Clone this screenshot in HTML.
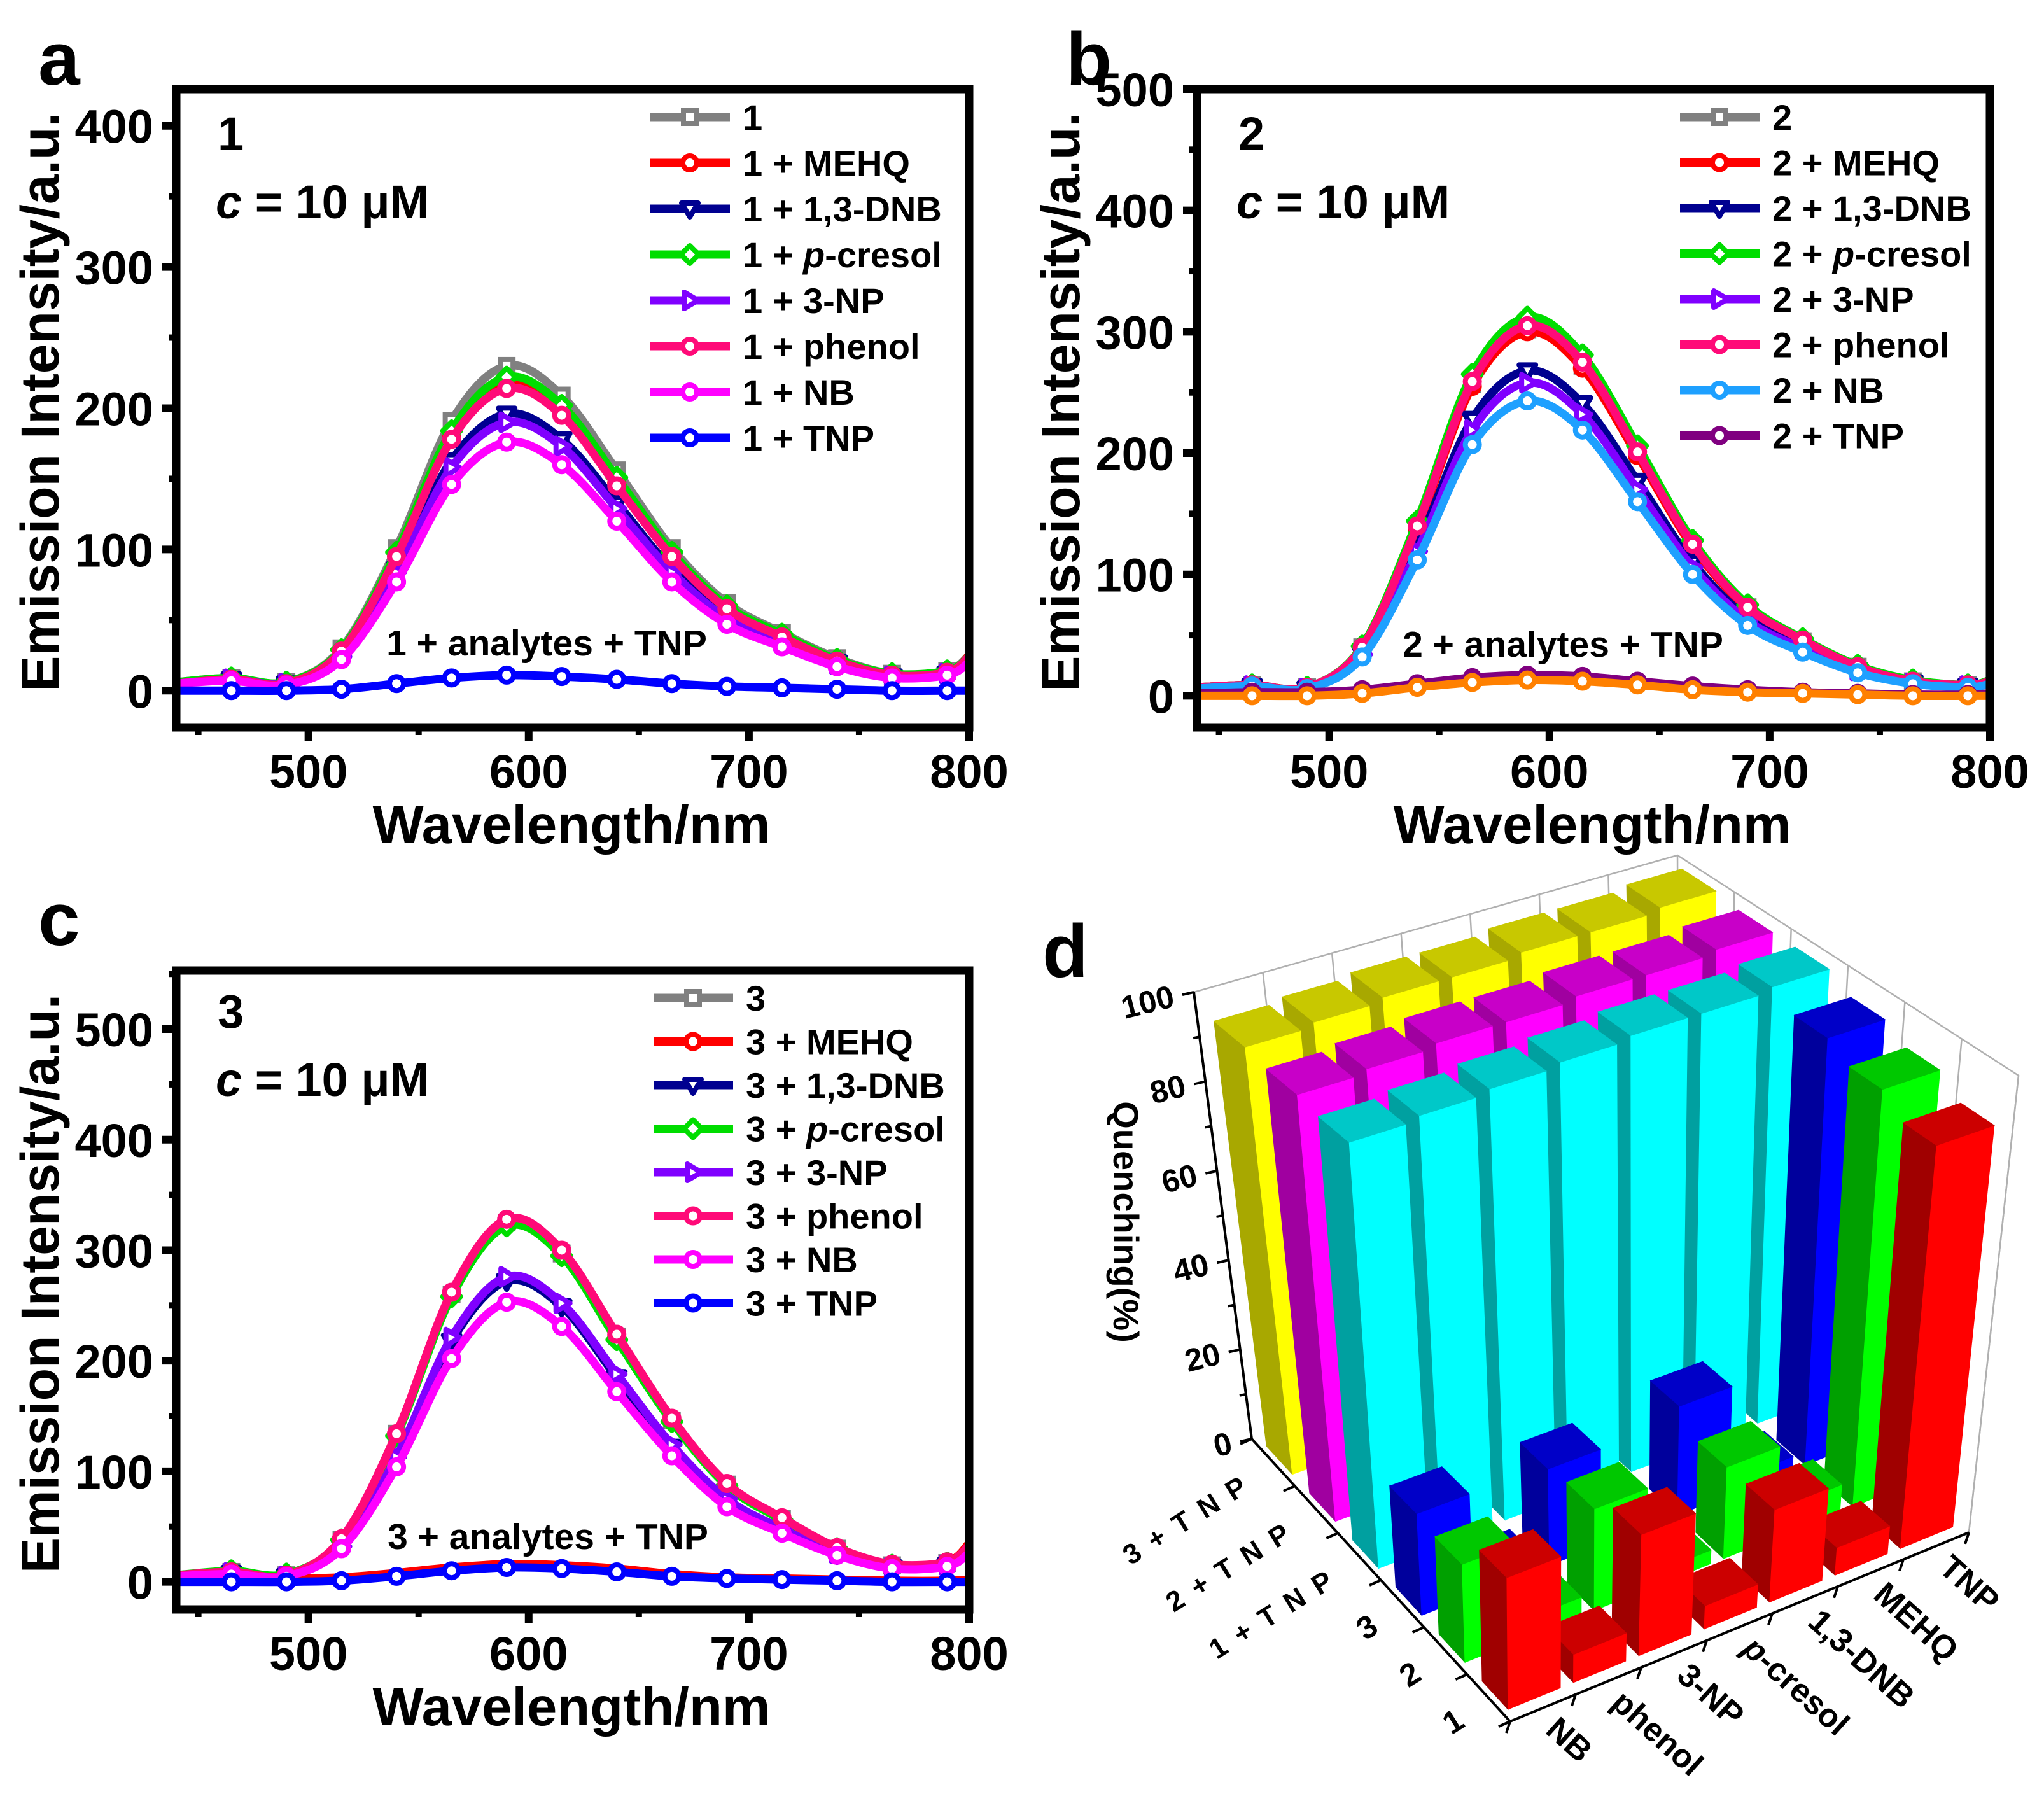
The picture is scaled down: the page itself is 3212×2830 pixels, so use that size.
<!DOCTYPE html>
<html><head><meta charset="utf-8"><title>Emission spectra and quenching</title>
<style>
html,body{margin:0;padding:0;background:#fff;}
svg{display:block;font-family:"Liberation Sans",Arial,sans-serif;font-weight:bold;}
</style></head>
<body>
<svg id="fig" xmlns="http://www.w3.org/2000/svg" width="3212" height="2830" viewBox="0 0 3212 2830"></svg>
<script>
// ---------- shared x data ----------
const wavelengths = [440,465,490,515,540,565,590,615,640,665,690,715,740,765,790,800];
const markerEvery = [false,true,true,true,true,true,true,true,true,true,true,true,true,true,true,false];

// ---------- panel a ----------
const aLabels = ["1","1 + MEHQ","1 + 1,3-DNB","1 + p-cresol","1 + 3-NP","1 + phenol","1 + NB","1 + TNP"];
const aGray   = [6,9,6,30,101,191,230,209,156,101,62,41,23,12,14,25];
const aMEHQ   = [5,8,5,28,95,179,216,197,147,95,58,39,21,11,13,25];
const aDNB    = [5,8,5,25,86,163,196,178,133,86,53,35,20,10,12,22];
const aCresol = [6,9,6,29,98,184,222,202,151,98,60,40,22,12,14,24];
const aNP     = [5,8,5,24,84,158,190,173,129,84,51,34,19,10,12,21];
const aPhenol = [5,8,5,28,95,178,214,195,145,95,58,38,21,11,13,24];
const aNB     = [5,7,4,22,77,146,176,160,120,77,47,31,17,9,11,20];
const aTNP    = [0,0,0,1,5,9,11,10,8,5,3,2,1,0,0,0];
const aYTicks = [0,100,200,300,400];

// ---------- panel b ----------
const bLabels = ["2","2 + MEHQ","2 + 1,3-DNB","2 + p-cresol","2 + 3-NP","2 + phenol","2 + NB","2 + TNP"];
const bGray   = [7,9,7,40,139,257,302,272,199,124,73,45,24,12,9,12];
const bMEHQ   = [7,9,7,39,138,255,300,270,198,123,72,45,24,12,9,12];
const bDNB    = [6,8,6,35,123,228,268,241,177,110,64,40,21,11,8,11];
const bCresol = [7,9,7,41,144,265,312,281,206,128,75,47,25,13,9,13];
const bNP     = [6,8,6,34,119,219,258,232,170,106,62,39,21,10,8,10];
const bPhenol = [7,9,7,40,140,259,305,275,201,125,73,46,24,12,9,12];
const bNB     = [6,8,6,32,112,207,243,219,160,100,58,36,19,10,7,10];
const bTNP    = [2,3,3,5,10,15,17,16,12,8,5,3,2,1,1,2];
const bQuenched = [0,0,0,2,7,11,13,12,9,5,3,2,1,0,0,0];
const bYTicks = [0,100,200,300,400,500];

// ---------- panel c ----------
const cLabels = ["3","3 + MEHQ","3 + 1,3-DNB","3 + p-cresol","3 + 3-NP","3 + phenol","3 + NB","3 + TNP"];
const cGray   = [6,9,6,38,134,260,325,297,222,146,88,57,30,15,17,32];
const cMEHQ   = [6,9,6,38,134,261,326,298,222,147,88,57,30,15,18,35];
const cDNB    = [5,8,5,32,112,218,272,249,185,122,73,48,25,13,15,28];
const cCresol = [6,10,7,38,132,258,322,295,219,145,87,56,30,15,17,30];
const cNP     = [5,8,5,32,113,221,276,252,188,124,75,48,26,13,15,28];
const cPhenol = [6,9,6,39,134,262,328,300,224,148,89,58,31,16,18,33];
const cNB     = [5,7,5,30,104,202,253,231,172,114,68,44,24,12,14,26];
const cTNP    = [0,0,0,1,5,10,13,12,9,5,3,2,1,0,0,0];
const cQuenched = [2,3,3,4,8,13,16,15,12,7,4,3,2,1,1,2];
const cYTicks = [0,100,200,300,400,500];

const xTicks = [500,600,700,800];

// ---------- panel d ----------
const dAnalytes = ["NB","phenol","3-NP","p-cresol","1,3-DNB","MEHQ","TNP"];
const dRows = ["1","2","3","1 + TNP","2 + TNP","3 + TNP"];
const dRow1 = [28,6,26,5,20,6,88];
const dRow2 = [21,4,22,3,20,6,92];
const dRow3 = [22,3,21,2,24,3,95];
const dRow1TNP = [93,94,95,96,97,97,98];
const dRow2TNP = [94,95,96,96,97,97,98];
const dRow3TNP = [95,96,97,97,98,98,99];
const dZTicks = [0,20,40,60,80,100];

const NS = "http://www.w3.org/2000/svg";
const svg = document.getElementById("fig");
function el(tag, attrs, parent){
  const e = document.createElementNS(NS, tag);
  for (const k in attrs) e.setAttribute(k, attrs[k]);
  (parent||svg).appendChild(e);
  return e;
}
function txt(s, attrs, parent){ const t = el("text", attrs, parent); t.textContent = s; return t; }

function smoothPath(pts){
  let d = "M" + pts[0][0].toFixed(1) + "," + pts[0][1].toFixed(1);
  for (let i=0;i<pts.length-1;i++){
    const p0 = pts[Math.max(0,i-1)], p1 = pts[i], p2 = pts[i+1], p3 = pts[Math.min(pts.length-1,i+2)];
    const c1 = [p1[0]+(p2[0]-p0[0])/6, p1[1]+(p2[1]-p0[1])/6];
    const c2 = [p2[0]-(p3[0]-p1[0])/6, p2[1]-(p3[1]-p1[1])/6];
    d += " C"+c1[0].toFixed(1)+","+c1[1].toFixed(1)+" "+c2[0].toFixed(1)+","+c2[1].toFixed(1)+" "+p2[0].toFixed(1)+","+p2[1].toFixed(1);
  }
  return d;
}

function marker(g, shape, x, y, color){
  let m;
  const sw = 8;
  if (shape === "square") m = el("rect", {x:x-10,y:y-10,width:20,height:20,fill:"#fff",stroke:color,"stroke-width":sw}, g);
  else if (shape === "down") m = el("polygon", {points:`${x-13},${y-9} ${x+13},${y-9} ${x},${y+13}`,fill:"#fff",stroke:color,"stroke-width":sw,"stroke-linejoin":"round"}, g);
  else if (shape === "right") m = el("polygon", {points:`${x-9},${y-13} ${x-9},${y+13} ${x+13},${y}`,fill:"#fff",stroke:color,"stroke-width":sw,"stroke-linejoin":"round"}, g);
  else if (shape === "diamond") m = el("polygon", {points:`${x},${y-14} ${x+14},${y} ${x},${y+14} ${x-14},${y}`,fill:"#fff",stroke:color,"stroke-width":sw,"stroke-linejoin":"round"}, g);
  else m = el("circle", {cx:x,cy:y,r:11,fill:"#fff",stroke:color,"stroke-width":sw}, g);
  
  
  return m;
}

function linePanel(cfg){
  const g = el("g", {});
  
  
  const {x0,x1,y0,y1,xmin,xmax,ymin,ymax} = cfg;
  const X = v => x0 + (v-xmin)/(xmax-xmin)*(x1-x0);
  const Y = v => y1 - (v-ymin)/(ymax-ymin)*(y1-y0);
  const clipId = cfg.name + "-clip";
  const defs = el("defs", {}, g);
  const cp = el("clipPath", {id:clipId}, defs);
  el("rect", {x:x0, y:y0, width:x1-x0, height:y1-y0}, cp);
  const plot = el("g", {"clip-path":`url(#${clipId})`}, g);
  
  
  cfg.series.forEach(s => {
    const sg = el("g", {}, plot);
    
    
    const pts = wavelengths.map((w,i)=>[X(w), Y(s.values[i])]);
    const p = el("path", {d:smoothPath(pts), fill:"none", stroke:s.color, "stroke-width":13, "stroke-linejoin":"round"}, sg);
    
    
    if (s.shape) wavelengths.forEach((w,i)=>{ if (markerEvery[i]) marker(sg, s.shape, X(w), Y(s.values[i]), s.color); });
  });
  const frame = el("rect", {x:x0, y:y0, width:x1-x0, height:y1-y0, fill:"none", stroke:"#000", "stroke-width":13}, g);
  
  
  cfg.yTicks.forEach(t=>{
    const y = Y(t);
    const tk = el("line", {x1:x0-22, x2:x0, y1:y, y2:y, stroke:"#000", "stroke-width":12}, g);
    
    
    const lb = txt(String(t), {x:x0-36, y:y+27, "font-size":74, "text-anchor":"end"}, g);
    
    
    const mid = t + (cfg.yTicks[1]-cfg.yTicks[0])/2;
    if (mid < ymax) {
      const mt = el("line", {x1:x0-12, x2:x0, y1:Y(mid), y2:Y(mid), stroke:"#000", "stroke-width":10}, g);
      
      
    }
  });
  [450,550,650,750].forEach(t=>{
    const mt = el("line", {x1:X(t), x2:X(t), y1:y1, y2:y1+12, stroke:"#000", "stroke-width":10}, g);
    
    
  });
  xTicks.forEach(t=>{
    const x = X(t);
    const tk = el("line", {x1:x, x2:x, y1:y1, y2:y1+22, stroke:"#000", "stroke-width":12}, g);
    
    
    const lb = txt(String(t), {x:x, y:y1+95, "font-size":74, "text-anchor":"middle"}, g);
    
    
  });
  const xt = txt("Wavelength/nm", {x:(x0+x1)/2 - 2, y:y1+182, "font-size":85, "text-anchor":"middle"}, g);
  
  
  const cy = (y0+y1)/2 - 10;
  const yt = txt("Emission Intensity/a.u.", {x:0, y:0, "font-size":84, "text-anchor":"middle", transform:`translate(${x0-185},${cy}) rotate(-90)`}, g);
  
  
  const pl = txt(cfg.letter, {x:cfg.letterX, y:cfg.letterY, "font-size":118}, g);
  
  
  const id = txt(cfg.id, {x:x0+65, y:cfg.idY, "font-size":74}, g);
  
  
  const conc = el("text", {x:x0+62, y:cfg.idY+107, "font-size":74}, g);
  
  
  const ci = el("tspan", {"font-style":"italic"}, conc); ci.textContent = "c";
  const cr = el("tspan", {}, conc); cr.textContent = " = 10 μM";
  const an = txt(cfg.id + " + analytes + TNP", {x:cfg.annX, y:cfg.annY, "font-size":57, "text-anchor":"middle"}, g);
  
  
  const lg = el("g", {}, g);
  
  
  cfg.series.filter(s=>s.label).forEach((s,i)=>{
    const ly = cfg.legY + i*cfg.legStep;
    const eg = el("g", {}, lg);
    
    
    el("line", {x1:cfg.legX, x2:cfg.legX+125, y1:ly, y2:ly, stroke:s.color, "stroke-width":13}, eg);
    marker(eg, s.shape, cfg.legX+62, ly, s.color);
    const t = el("text", {x:cfg.legX+145, y:ly+20, "font-size":56}, eg);
    if (s.label.indexOf("p-cresol")>=0){
      const a = el("tspan", {}, t); a.textContent = s.label.replace("p-cresol","");
      const b = el("tspan", {"font-style":"italic"}, t); b.textContent = "p";
      const c = el("tspan", {}, t); c.textContent = "-cresol";
    } else t.textContent = s.label;
  });
}

const shapes = ["square","circle","down","diamond","right","circle","circle","circle"];
const keys = ["blank","mehq","dnb","p-cresol","3-np","phenol","nb","tnp"];
const colsA = ["#808080","#ff0000","#000090","#00dd00","#8000ff","#ff0a78","#ff00ff","#0000ff"];
const colsB = ["#808080","#ff0000","#000090","#00dd00","#8000ff","#ff0a78","#1ea0ff","#800080"];

function mk(labels, arrs, cols){
  return arrs.map((v,i)=>({key:keys[i], label:labels[i], values:v, color:cols[i], shape:shapes[i]}));
}

const sA = mk(aLabels,[aGray,aMEHQ,aDNB,aCresol,aNP,aPhenol,aNB,aTNP],colsA);
linePanel({name:"panel-a", letter:"a", letterX:60, letterY:133, id:"1", idY:236,
  x0:277,x1:1523,y0:140,y1:1143,xmin:440,xmax:800,ymin:-26,ymax:426,yTicks:aYTicks,
  series:sA, legX:1022, legY:184, legStep:72, annX:859, annY:1030});

const sB = mk(bLabels,[bGray,bMEHQ,bDNB,bCresol,bNP,bPhenol,bNB,bTNP],colsB);
sB.splice(7,0,{key:"quenched", label:null, values:bQuenched, color:"#ff8000", shape:"circle"});
linePanel({name:"panel-b", letter:"b", letterX:1675, letterY:133, id:"2", idY:236,
  x0:1881,x1:3127,y0:140,y1:1143,xmin:440,xmax:800,ymin:-26,ymax:500,yTicks:bYTicks,
  series:[...sB.slice(0,7), sB[8], sB[7]], legX:2640, legY:184, legStep:71.5, annX:2456, annY:1032});

const sC = mk(cLabels,[cGray,cMEHQ,cDNB,cCresol,cNP,cPhenol,cNB,cTNP],colsA);
sC.unshift({key:"quenched", label:null, values:cQuenched, color:"#ff0000", shape:null});
linePanel({name:"panel-c", letter:"c", letterX:60, letterY:1485, id:"3", idY:1615,
  x0:277,x1:1523,y0:1525,y1:2529,xmin:440,xmax:800,ymin:-25,ymax:553,yTicks:cYTicks,
  series:sC, legX:1027, legY:1568, legStep:68.5, annX:861, annY:2434});

// ---------- panel d : 3D bars ----------
(function(){
  const g = el("g", {});
  
  
  const C = {
    "000":[2373,2705], "100":[3094,2408], "010":[1967,2261], "110":[2639,2022],
    "001":[2368,1964], "101":[3172,1690], "011":[1876,1559], "111":[2636,1344]
  };
  function P(u,v,w){
    let x=0,y=0;
    for (const a of [0,1]) for (const b of [0,1]) for (const c of [0,1]){
      const wt = (a?u:1-u)*(b?v:1-v)*(c?w:1-w);
      const p = C[""+a+b+c]; x += wt*p[0]; y += wt*p[1];
    }
    return [x,y];
  }
  const pstr = arr => arr.map(p=>p[0].toFixed(1)+","+p[1].toFixed(1)).join(" ");
  const nC = dAnalytes.length, nR = dRows.length;
  const grid = el("g", {stroke:"#b0b0b0","stroke-width":2.5,fill:"none"}, g);
  
  
  el("polyline", {points:pstr([P(0,1,1),P(1,1,1),P(1,0,1),P(1,0,0)])}, grid);
  for (let j=1;j<=nC;j++) el("line", {x1:P(j/nC,1,0)[0],y1:P(j/nC,1,0)[1],x2:P(j/nC,1,1)[0],y2:P(j/nC,1,1)[1]}, grid);
  for (let i=0;i<nR;i++) el("line", {x1:P(1,i/nR,0)[0],y1:P(1,i/nR,0)[1],x2:P(1,i/nR,1)[0],y2:P(1,i/nR,1)[1]}, grid);
  const rowsData = [dRow1,dRow2,dRow3,dRow1TNP,dRow2TNP,dRow3TNP];
  const rowColors = [
    ["#ff0000","#a00000","#cc0000"],["#00ff00","#00a000","#00c800"],["#0000ff","#00009c","#0000c8"],
    ["#00ffff","#00a0a0","#00c8c8"],["#ff00ff","#a000a0","#c800c8"],["#ffff00","#a8a800","#c8c800"]];
  const rowKeys = ["1","2","3","1-tnp","2-tnp","3-tnp"];
  const W = 0.8, D = 0.6;
  for (let i=nR-1;i>=0;i--){
    for (let j=nC-1;j>=0;j--){
      const h = rowsData[i][j]/100;
      const u0=(j+0.5-W/2)/nC, u1=(j+0.5+W/2)/nC, v0=(i+0.5-D/2)/nR, v1=(i+0.5+D/2)/nR;
      const bg = el("g", {}, g);
      
      
      const col = rowColors[i];
      el("polygon", {points:pstr([P(u0,v0,0),P(u0,v1,0),P(u0,v1,h),P(u0,v0,h)]), fill:col[1], stroke:col[1], "stroke-width":1}, bg);
      el("polygon", {points:pstr([P(u0,v0,0),P(u1,v0,0),P(u1,v0,h),P(u0,v0,h)]), fill:col[0], stroke:col[0], "stroke-width":1}, bg);
      el("polygon", {points:pstr([P(u0,v0,h),P(u1,v0,h),P(u1,v1,h),P(u0,v1,h)]), fill:col[2], stroke:col[2], "stroke-width":1}, bg);
    }
  }
  const ax = el("g", {stroke:"#000","stroke-width":4,fill:"none"}, g);
  
  
  el("polyline", {points:pstr([P(0,1,1),P(0,1,0),P(0,0,0),P(1,0,0)])}, ax);
  dZTicks.forEach(t=>{
    const p = P(0,1,t/100);
    el("line", {x1:p[0]-18,y1:p[1]+4,x2:p[0],y2:p[1]}, ax);
    const lb = txt(String(t), {x:0,y:0,"font-size":50,"text-anchor":"end",transform:`translate(${p[0]-28},${p[1]+22}) rotate(-14)`}, g);
    
    
    if (t<100){ const q = P(0,1,(t+10)/100); el("line", {x1:q[0]-10,y1:q[1]+2,x2:q[0],y2:q[1]}, ax); }
  });
  for (let i=0;i<=nR;i++){ const p = P(0,i/nR,0); el("line", {x1:p[0]-18,y1:p[1]+8,x2:p[0],y2:p[1]}, ax); }
  dRows.forEach((r,i)=>{
    const p = P(0,(i+0.5)/nR,0);
    const lb = txt(r.replace("TNP","T N P"), {x:0,y:0,"font-size":i<3?50:44,"letter-spacing":i<3?0:4,"text-anchor":"end",transform:`translate(${p[0]-35},${p[1]+44}) rotate(-32)`}, g);
    
    
  });
  for (let j=0;j<=nC;j++){ const p = P(j/nC,0,0); el("line", {x1:p[0]-6,y1:p[1]+18,x2:p[0],y2:p[1]}, ax); }
  dAnalytes.forEach((a,j)=>{
    const p = P((j+0.5)/nC,0,0);
    const lb = el("text", {x:0,y:0,"font-size":52,transform:`translate(${p[0]+2},${p[1]+38}) rotate(42)`}, g);
    
    
    if (a==="p-cresol"){ const s1 = el("tspan",{"font-style":"italic"},lb); s1.textContent="p"; const s2=el("tspan",{},lb); s2.textContent="-cresol"; }
    else lb.textContent = a;
  });
  const zt = txt("Quenching(%)", {x:0,y:0,"font-size":56,"text-anchor":"middle",transform:"translate(1750,1920) rotate(90)"}, g);
  
  
  const pl = txt("d", {x:1638,y:1535,"font-size":118}, g);
  
  
})();
</script>
</body></html>
